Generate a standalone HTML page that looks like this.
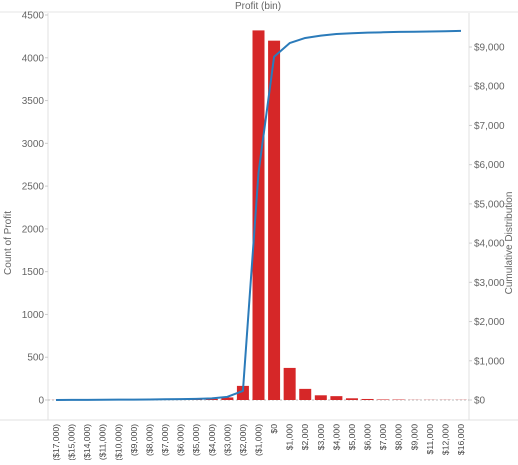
<!DOCTYPE html>
<html><head><meta charset="utf-8"><style>
body{margin:0;background:#fff;font-family:"Liberation Sans",Arial,sans-serif}
svg text{font-family:"Liberation Sans",Arial,sans-serif;fill:#666}
</style></head><body>
<svg id="c" width="518" height="460"></svg>
<script>
const categories=["($17,000)","($15,000)","($14,000)","($11,000)","($10,000)","($9,000)","($8,000)","($7,000)","($6,000)","($5,000)","($4,000)","($3,000)","($2,000)","($1,000)","$0","$1,000","$2,000","$3,000","$4,000","$5,000","$6,000","$7,000","$8,000","$9,000","$11,000","$12,000","$16,000"];
const counts=[1,1,1,1,1,2,2,3,4,8,15,30,165,4320,4200,375,130,55,45,20,12,6,5,2,2,2,2];
const cumulative=[0,2,4,6,8,10,14,18,22,28,40,80,230,5790,8750,9100,9230,9290,9330,9350,9365,9375,9385,9390,9395,9400,9410];
const leftTicks=[0,500,1000,1500,2000,2500,3000,3500,4000,4500];
const rightTicks=[0,1000,2000,3000,4000,5000,6000,7000,8000,9000];
const rightLabels=["$0","$1,000","$2,000","$3,000","$4,000","$5,000","$6,000","$7,000","$8,000","$9,000"];

const svg=document.getElementById('c');
const NS="http://www.w3.org/2000/svg";
const X0=48,X1=469,Y0=400,YT=15;
const yL=v=>Y0-v*(Y0-YT)/4500;
const yR=v=>Y0-v*(Y0-47)/9000;
const step=(461-56)/(categories.length-1);
const xC=i=>56+i*step;
function el(t,a,p){const e=document.createElementNS(NS,t);for(const k in a)e.setAttribute(k,a[k]);(p||svg).appendChild(e);return e;}

el('line',{x1:0,y1:12,x2:518,y2:12,stroke:'#e6e6e6','stroke-width':1});
const title=el('text',{x:258,y:9,'text-anchor':'middle','font-size':'10'});
title.textContent='Profit (bin)';



el('line',{x1:X0,y1:13,x2:X0,y2:420,stroke:'#e0e0e0'});
el('line',{x1:X1,y1:13,x2:X1,y2:420,stroke:'#e0e0e0'});
el('line',{x1:0,y1:420,x2:518,y2:420,stroke:'#e0e0e0'});

leftTicks.forEach(v=>{
  el('line',{x1:X0-3,y1:yL(v),x2:X0,y2:yL(v),stroke:'#ccc'});
  const t=el('text',{x:X0-4,y:yL(v)+3.5,'text-anchor':'end','font-size':'10'});
  t.textContent=v;
  
  
});
rightTicks.forEach((v,i)=>{
  el('line',{x1:X1,y1:yR(v),x2:X1+3,y2:yR(v),stroke:'#ccc'});
  const t=el('text',{x:X1+5,y:yR(v)+3.5,'font-size':'10'});
  t.textContent=rightLabels[i];
  
  
});
const lt=el('text',{x:0,y:0,'text-anchor':'middle','font-size':'10',transform:'translate(11,243) rotate(-90)'});
lt.textContent='Count of Profit';


const rt=el('text',{x:0,y:0,'text-anchor':'middle','font-size':'10',transform:'translate(512,243) rotate(-90)'});
rt.textContent='Cumulative Distribution';



el('line',{x1:X0,y1:Y0,x2:X1,y2:Y0,stroke:'#bbb','stroke-dasharray':'2,2'});

counts.forEach((v,i)=>{
  const b=el('rect',{x:xC(i)-6,y:yL(v),width:12,height:Y0-yL(v),fill:'#d62728'});
  
  
});

const pts=cumulative.map((v,i)=>xC(i)+','+yR(v)).join(' ');
const pl=el('polyline',{points:pts,fill:'none',stroke:'#2b7bba','stroke-width':2,'stroke-linejoin':'round'});



categories.forEach((c,i)=>{
  const t=el('text',{x:0,y:0,'text-anchor':'end','font-size':'8.6',transform:`translate(${xC(i)+3},424) rotate(-90)`});
  t.setAttribute('style','fill:#444');
  t.textContent=c;
  
  
});
</script>
</body></html>
